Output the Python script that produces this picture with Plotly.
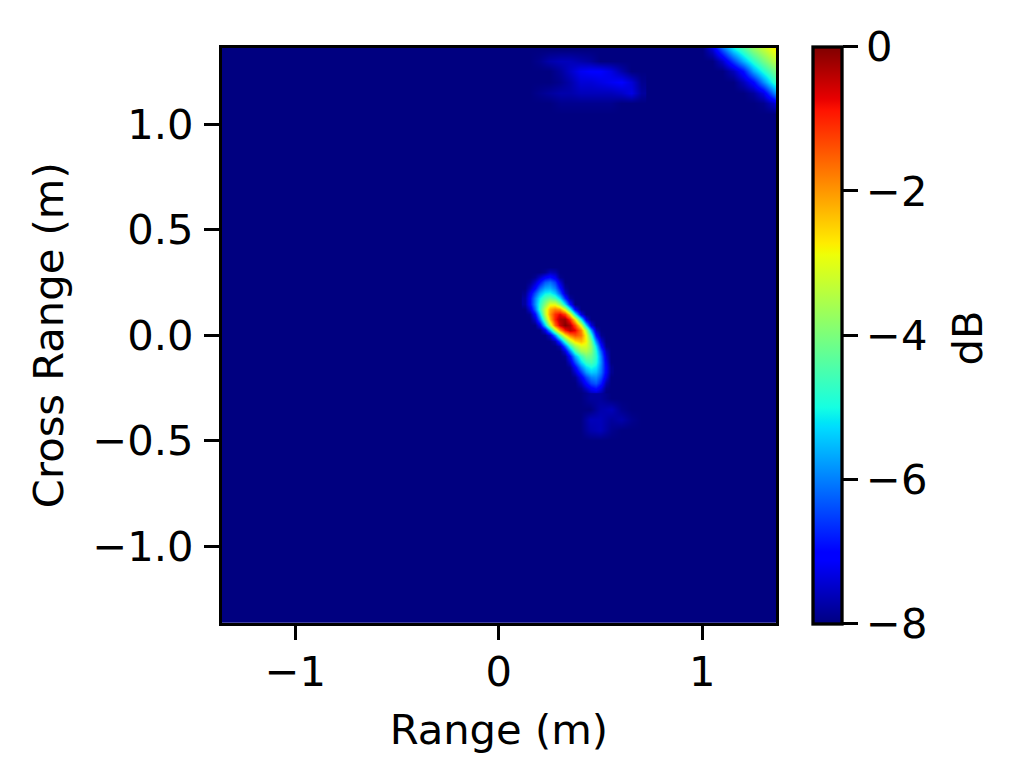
import plotly.graph_objects as go

W, H = 1020, 783
L, R, T, B = 221.7, 776, 48, 622.5
FONT = "DejaVu Sans"
FS = 41.67
LW = 3.3

# background level of the map
bg_x = [-1.375, 1.375]
bg_y = [-1.375, 1.375]
bg_z = [[-8, -8], [-8, -8]]

# main reflection
blob_x = [0.125, 0.15, 0.175, 0.2, 0.225, 0.25, 0.275, 0.3, 0.325, 0.35, 0.375, 0.4,
          0.425, 0.45, 0.475, 0.5, 0.525, 0.55]
blob_y = [0.325, 0.3, 0.275, 0.25, 0.225, 0.2, 0.175, 0.15, 0.125, 0.1, 0.075, 0.05, 0.025, 0.0,
          -0.025, -0.05, -0.075, -0.1, -0.125, -0.15, -0.175, -0.2, -0.225, -0.25, -0.275, -0.3]
blob_z = [
    [-8, -8, -8, -8, -8, -8, -8, -8, -8, -8, -8, -8, -8, -8, -8, -8, -8, -8],
    [-8, -8, -8, -8, -7.9, -7.6, -7.7, -8, -8, -8, -8, -8, -8, -8, -8, -8, -8, -8],
    [-8, -8, -7.9, -7.5, -7.1, -6.9, -7.2, -7.9, -8, -8, -8, -8, -8, -8, -8, -8, -8, -8],
    [-8, -7.9, -7.5, -6.9, -6.3, -6.1, -6.5, -7.4, -8, -8, -8, -8, -8, -8, -8, -8, -8, -8],
    [-8, -7.6, -7.0, -6.2, -5.7, -5.6, -6.0, -6.9, -7.8, -8, -8, -8, -8, -8, -8, -8, -8, -8],
    [-7.9, -7.2, -6.4, -5.6, -5.1, -5.0, -5.4, -6.3, -7.5, -8, -8, -8, -8, -8, -8, -8, -8, -8],
    [-7.8, -7.0, -6.0, -5.1, -4.5, -4.2, -4.5, -5.3, -6.7, -7.8, -8, -8, -8, -8, -8, -8, -8, -8],
    [-7.8, -7.0, -5.9, -4.8, -3.9, -3.0, -3.0, -3.8, -5.2, -6.9, -8, -8, -8, -8, -8, -8, -8, -8],
    [-8, -7.4, -6.2, -4.7, -3.3, -2.2, -1.8, -2.0, -3.1, -5.0, -7.1, -8, -8, -8, -8, -8, -8, -8],
    [-8, -7.9, -7.0, -5.3, -3.4, -2.0, -1.1, -0.7, -1.2, -2.7, -5.0, -7.3, -8, -8, -8, -8, -8, -8],
    [-8, -8, -7.5, -6.0, -4.1, -2.3, -1.0, -0.3, -0.2, -1.1, -2.7, -5.1, -7.3, -8, -8, -8, -8, -8],
    [-8, -8, -8, -7.2, -5.4, -3.4, -1.6, -0.5, -0.02, -0.3, -1.3, -3.0, -5.3, -7.3, -8, -8, -8, -8],
    [-8, -8, -8, -8, -7.3, -5.6, -3.6, -2.0, -0.9, -0.4, -0.7, -1.8, -3.5, -5.7, -7.6, -8, -8, -8],
    [-8, -8, -8, -8, -8, -7.5, -6.0, -4.2, -2.7, -1.8, -1.4, -1.7, -2.9, -4.7, -6.9, -7.9, -8, -8],
    [-8, -8, -8, -8, -8, -8, -7.7, -6.4, -4.7, -3.4, -2.6, -2.3, -2.8, -4.0, -5.9, -7.4, -8, -8],
    [-8, -8, -8, -8, -8, -8, -8, -7.7, -6.3, -4.8, -3.7, -3.1, -3.1, -3.8, -5.2, -6.9, -7.9, -8],
    [-8, -8, -8, -8, -8, -8, -8, -8, -7.4, -6.0, -4.6, -3.7, -3.5, -3.9, -4.9, -6.3, -7.6, -8],
    [-8, -8, -8, -8, -8, -8, -8, -8, -7.9, -7.0, -5.7, -4.7, -4.1, -4.2, -4.8, -6.0, -7.4, -8],
    [-8, -8, -8, -8, -8, -8, -8, -8, -8, -7.5, -6.4, -5.3, -4.7, -4.5, -4.9, -5.9, -7.2, -8],
    [-8, -8, -8, -8, -8, -8, -8, -8, -8, -7.9, -7.1, -6.0, -5.3, -5.0, -5.2, -6.0, -7.1, -7.9],
    [-8, -8, -8, -8, -8, -8, -8, -8, -8, -8, -7.5, -6.6, -5.8, -5.4, -5.5, -6.1, -7.1, -7.9],
    [-8, -8, -8, -8, -8, -8, -8, -8, -8, -8, -7.9, -7.2, -6.5, -6.0, -5.9, -6.4, -7.3, -8],
    [-8, -8, -8, -8, -8, -8, -8, -8, -8, -8, -8, -7.6, -7.0, -6.5, -6.3, -6.8, -7.7, -8],
    [-8, -8, -8, -8, -8, -8, -8, -8, -8, -8, -8, -7.9, -7.5, -7.1, -6.9, -7.3, -7.9, -8],
    [-8, -8, -8, -8, -8, -8, -8, -8, -8, -8, -8, -8, -7.9, -7.6, -7.5, -7.7, -8, -8],
    [-8, -8, -8, -8, -8, -8, -8, -8, -8, -8, -8, -8, -8, -7.8, -7.8, -7.8, -7.9, -8],
]

# dim lobe below the main reflection
tail_x = [0.40, 0.45, 0.50, 0.55, 0.60, 0.65, 0.70]
tail_y = [-0.30, -0.35, -0.40, -0.45, -0.50]
tail_z = [
    [-8, -7.8, -7.8, -8, -8, -8, -8],
    [-8, -8, -7.7, -7.6, -7.9, -8, -8],
    [-8, -7.6, -7.6, -7.8, -7.7, -7.9, -8],
    [-8, -7.7, -7.6, -7.9, -8, -8, -8],
    [-8, -8, -8, -8, -8, -8, -8],
]

# faint patch near the top edge
top_x = [0.15, 0.20, 0.25, 0.30, 0.35, 0.40, 0.45, 0.50, 0.55, 0.60, 0.65, 0.70]
top_y = [1.35, 1.30, 1.25, 1.20, 1.15, 1.10, 1.05]
top_z = [
    [-8, -8, -8, -8, -8, -8, -8, -8, -8, -8, -8, -8],
    [-8, -7.9, -7.7, -7.6, -7.6, -7.7, -7.8, -8, -8, -8, -8, -8],
    [-8, -8, -8, -7.8, -7.5, -7.2, -7.1, -7.1, -7.3, -7.7, -8, -8],
    [-8, -8, -8, -7.9, -7.7, -7.4, -7.4, -7.3, -7.2, -7.1, -7.4, -7.9],
    [-8, -7.9, -7.8, -7.7, -7.7, -7.6, -7.6, -7.6, -7.6, -7.5, -7.3, -7.8],
    [-8, -8, -8, -7.9, -7.9, -7.9, -7.9, -7.9, -7.9, -8, -8, -8],
    [-8, -8, -8, -8, -8, -8, -8, -8, -8, -8, -8, -8],
]

# bright corner
corner_x = [1.00, 1.05, 1.10, 1.15, 1.20, 1.25, 1.30, 1.35, 1.375]
corner_y = [1.375, 1.35, 1.30, 1.25, 1.20, 1.15, 1.10, 1.05]
corner_z = [
    [-7.95, -7.0, -5.8, -4.9, -4.3, -3.7, -3.2, -2.7, -2.5],
    [-8, -7.5, -6.4, -5.3, -4.6, -3.9, -3.4, -2.9, -2.7],
    [-8, -8, -7.5, -6.5, -5.6, -4.8, -4.1, -3.5, -3.3],
    [-8, -8, -8, -7.6, -6.9, -5.7, -4.9, -4.2, -3.9],
    [-8, -8, -8, -8, -7.6, -7.0, -5.9, -4.9, -4.6],
    [-8, -8, -8, -8, -8, -7.8, -7.3, -6.1, -5.6],
    [-8, -8, -8, -8, -8, -8, -7.9, -7.5, -7.1],
    [-8, -8, -8, -8, -8, -8, -8, -8, -8],
]

x_ticks = [-1, 0, 1]
y_ticks = [-1.0, -0.5, 0.0, 0.5, 1.0]
cbar_ticks = [-8, -6, -4, -2, 0]

jet_stops = [0, 0.11, 0.125, 0.34, 0.35, 0.375, 0.64, 0.65, 0.66, 0.89, 0.91, 1]
jet_colors = ["rgb(0,0,128)", "rgb(0,0,255)", "rgb(0,0,255)", "rgb(0,219,255)",
              "rgb(0,230,247)", "rgb(21,255,226)", "rgb(238,255,8)", "rgb(247,246,0)",
              "rgb(255,236,0)", "rgb(255,19,0)", "rgb(232,0,0)", "rgb(128,0,0)"]

fig = go.Figure()
for xs, ys, zs in [(bg_x, bg_y, bg_z), (blob_x, blob_y, blob_z), (tail_x, tail_y, tail_z),
                   (top_x, top_y, top_z), (corner_x, corner_y, corner_z)]:
    fig.add_trace(go.Heatmap(x=xs, y=ys, z=zs, coloraxis="coloraxis",
                             zsmooth="best", hoverinfo="skip"))

axis_common = dict(showgrid=False, zeroline=False, showline=True, mirror=True,
                   linecolor="black", linewidth=LW, ticks="outside", ticklen=14.6,
                   tickwidth=LW, tickcolor="black", automargin=False,
                   tickfont=dict(family=FONT, size=FS, color="black"))

fig.update_layout(
    width=W, height=H,
    margin=dict(l=0, r=0, t=0, b=0),
    paper_bgcolor="white", plot_bgcolor=jet_colors[0],
    font=dict(family=FONT, size=FS, color="black"),
    xaxis=dict(domain=[L / W, R / W], range=[-1.362, 1.362], tickvals=x_ticks,
               tickformat="d", ticklabelstandoff=-4,
               title=dict(text="Range (m)", standoff=20, font=dict(family=FONT, size=FS)),
               **axis_common),
    yaxis=dict(domain=[1 - B / H, 1 - T / H], range=[-1.361, 1.361], tickvals=y_ticks,
               tickformat=".1f", ticklabelstandoff=2,
               title=dict(text="Cross Range (m)", standoff=16, font=dict(family=FONT, size=FS)),
               **axis_common),
    coloraxis=dict(
        cmin=-8, cmax=0,
        colorscale=[[s, c] for s, c in zip(jet_stops, jet_colors)],
        colorbar=dict(
            x=812.6 / W, xanchor="left", xpad=0, y=1 - 623.7 / H, yanchor="bottom", ypad=0,
            len=577 / H, lenmode="fraction", thickness=29, thicknessmode="pixels",
            outlinecolor="black", outlinewidth=LW, borderwidth=0,
            tickvals=cbar_ticks, ticks="outside", ticklen=14.6, tickwidth=LW,
            tickcolor="black", tickfont=dict(family=FONT, size=FS, color="black"),
        ),
    ),
    annotations=[dict(text="dB", xref="paper", yref="paper", x=967 / W, y=1 - 338.5 / H,
                      xanchor="center", yanchor="middle", textangle=-90, showarrow=False,
                      font=dict(family=FONT, size=FS, color="black"))],
)

fig.write_html("out.html", config={"displayModeBar": False},
               post_script="document.body.style.margin='0';")
